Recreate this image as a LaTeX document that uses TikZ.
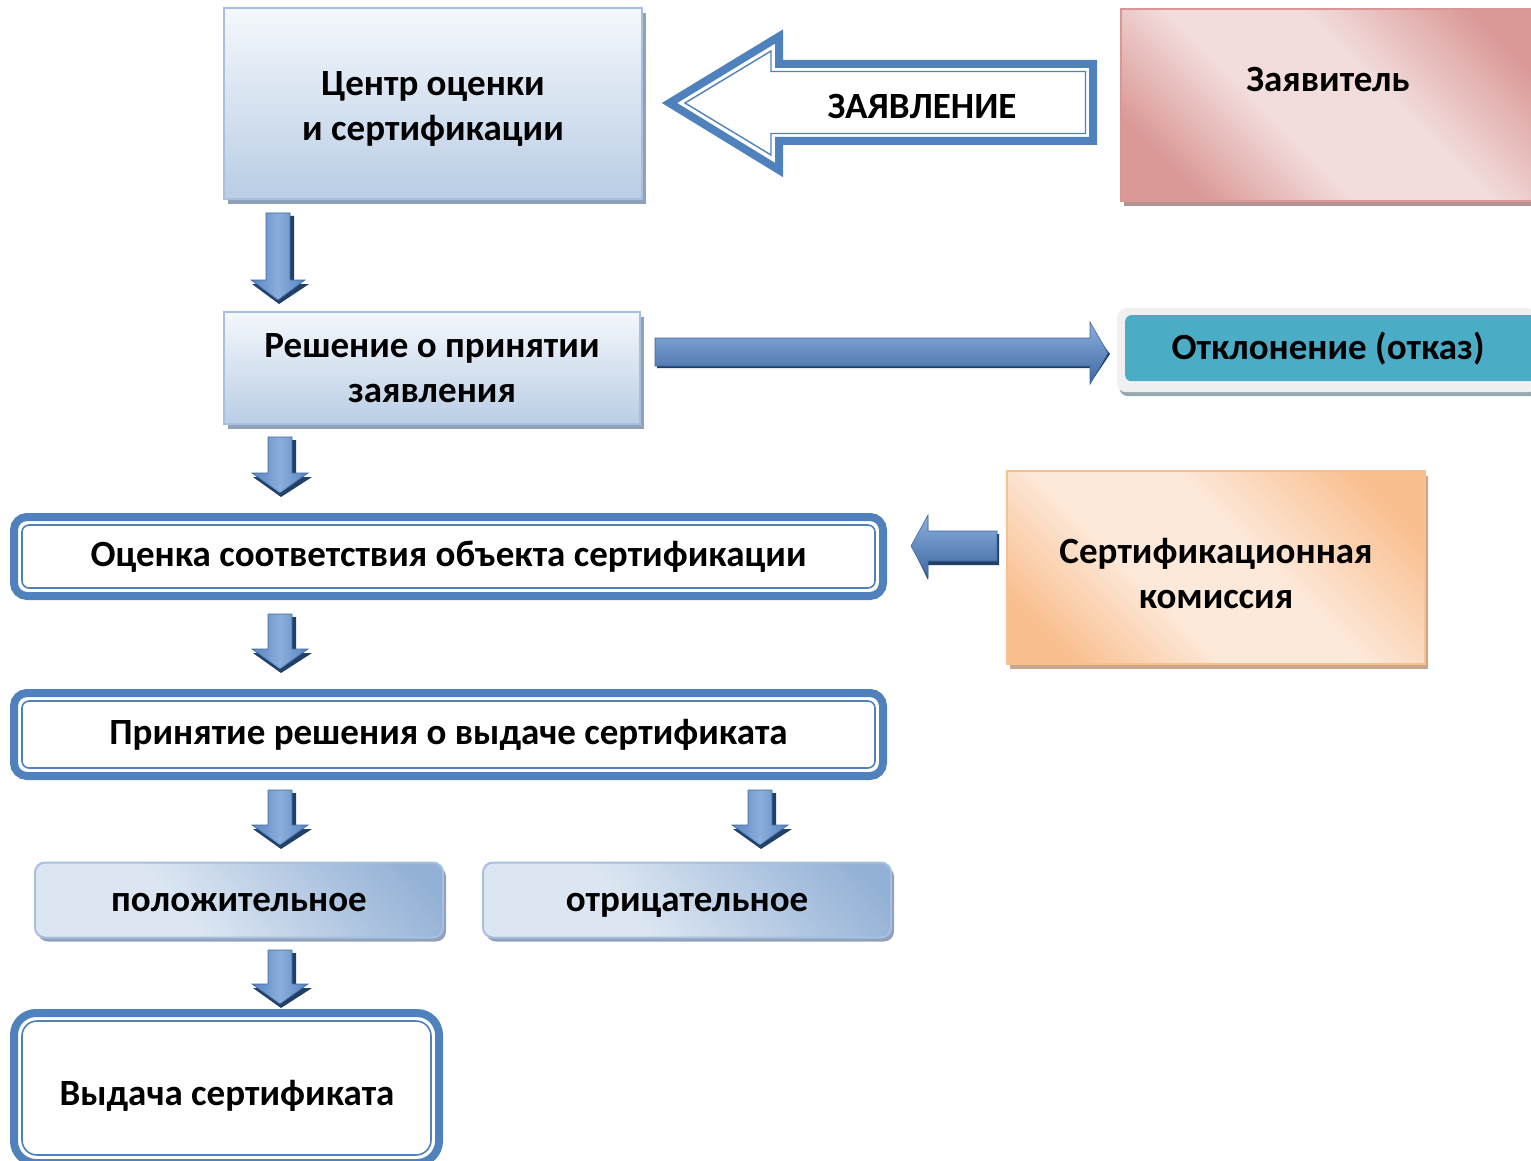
\documentclass[tikz,border=0pt]{standalone}
\usepackage{fontspec}
\setmainfont{Carlito}
\usetikzlibrary{calc,shadows}
\definecolor{blueA}{HTML}{4F81BD}
\definecolor{blueB}{HTML}{A7C0DE}
\definecolor{blueC}{HTML}{B9CDE5}
\definecolor{blueTop}{HTML}{F5F8FC}
\definecolor{shadowB}{HTML}{8FA2BA}
\definecolor{pinkD}{HTML}{DA9896}
\definecolor{pinkL}{HTML}{F2DDDC}
\definecolor{pinkE}{HTML}{D99694}
\definecolor{shadowP}{HTML}{B29493}
\definecolor{orD}{HTML}{F9BE8D}
\definecolor{orL}{HTML}{FDE9DA}
\definecolor{orE}{HTML}{F9C08F}
\definecolor{shadowO}{HTML}{C9A78C}
\definecolor{teal}{HTML}{4BACC6}
\definecolor{grayL}{HTML}{F0F0F0}
\definecolor{shadowT}{HTML}{95A9AE}
\definecolor{pillD}{HTML}{93B1D6}
\definecolor{pillL}{HTML}{DCE6F2}
\definecolor{arrD}{HTML}{3D69A3}
\definecolor{arrM}{HTML}{5583C0}
\definecolor{arrL}{HTML}{8DAEDC}
\definecolor{arrS}{HTML}{223F66}
\pgfdeclarehorizontalshading{pinkband}{100bp}{color(0bp)=(pinkD); color(24bp)=(pinkD); color(42bp)=(pinkL); color(58bp)=(pinkL); color(78bp)=(pinkD); color(100bp)=(pinkD)}
\pgfdeclarehorizontalshading{orband}{100bp}{color(0bp)=(orD); color(22bp)=(orD); color(40bp)=(orL); color(56bp)=(orL); color(78bp)=(orD); color(100bp)=(orD)}
\pgfdeclarehorizontalshading{pillshade}{100bp}{color(0bp)=(pillL); color(40bp)=(pillL); color(80bp)=(pillD); color(100bp)=(pillD)}
\tikzset{
  txt/.style={font=\fontsize{37}{45}\selectfont\bfseries, align=center, text=black},
  cbox/.style={txt, draw=blueB, line width=2pt, top color=blueTop, bottom color=blueC,
    drop shadow={shadow xshift=4pt, shadow yshift=-5pt, fill=shadowB, opacity=1}},
  pinkbox/.style={txt, draw=pinkE, line width=2pt, shading=pinkband, shading angle=45,
    drop shadow={shadow xshift=3pt, shadow yshift=-5pt, fill=shadowP, opacity=1}},
  orbox/.style={txt, draw=orE, line width=2pt, shading=orband, shading angle=45,
    drop shadow={shadow xshift=3pt, shadow yshift=-5pt, fill=shadowO, opacity=1}},
  dblbox/.style={txt, draw=blueA, line width=8pt, fill=white, rounded corners=13pt},
  innerline/.style={draw=blueA, line width=1.6pt, rounded corners=7pt},
  pill/.style={txt, draw=blueB, line width=2pt, rounded corners=10pt, shading=pillshade, shading angle=40,
    drop shadow={shadow xshift=3pt, shadow yshift=-4pt, fill=shadowB, opacity=1}},
  tealouter/.style={fill=grayL, rounded corners=9pt,
    drop shadow={shadow xshift=2pt, shadow yshift=-4pt, fill=shadowT, opacity=1}},
  tealbox/.style={txt, fill=teal, rounded corners=6pt},
  arrshadow/.style={fill=arrS},
  arrbody/.style={draw=arrD, line width=0.6pt, left color=arrM, right color=arrM, middle color=arrL},
  arrbodyh/.style={draw=arrD, line width=0.6pt, top color=arrL, bottom color=arrD},
}
% vertical block arrow from #2 (top centre) to #3 (tip); #1 = half width of the head
\newcommand\blockdown[3][28pt]{%
  \fill[arrshadow] let \p1=(#2), \p2=(#3) in
    (\x1-12pt+4pt,\y1-3pt) -- (\x1+12pt+4pt,\y1-3pt) -- (\x1+12pt+4pt,\y2+20pt-4pt) -- (\x1+#1+4pt,\y2+20pt-4pt)
    -- (\x1+1pt,\y2-4pt) -- (\x1-#1+1pt,\y2+20pt-4pt) -- (\x1-12pt+4pt,\y2+20pt-4pt) -- cycle;
  \path[arrbody] let \p1=(#2), \p2=(#3) in
    (\x1-12pt,\y1) -- (\x1+12pt,\y1) -- (\x1+12pt,\y2+20pt) -- (\x1+#1,\y2+20pt)
    -- (\x1,\y2) -- (\x1-#1,\y2+20pt) -- (\x1-12pt,\y2+20pt) -- cycle;}
\newcommand\blockright[2]{%
  \fill[arrshadow] let \p1=(#1), \p2=(#2) in
    (\x1+2pt,\y1-15pt) -- (\x2-18pt,\y1-15pt) -- (\x2-18pt,\y1-31pt) -- (\x2+2pt,\y1-1pt)
    -- (\x2-18pt,\y1+26pt) -- (\x2-18pt,\y1+10pt) -- (\x1+2pt,\y1+10pt) -- cycle;
  \path[arrbodyh] let \p1=(#1), \p2=(#2) in
    (\x1,\y1+15pt) -- (\x2-18pt,\y1+15pt) -- (\x2-18pt,\y1+31pt) -- (\x2,\y1)
    -- (\x2-18pt,\y1-31pt) -- (\x2-18pt,\y1-13pt) -- (\x1,\y1-13pt) -- cycle;}
\newcommand\blockleft[2]{%
  \fill[arrshadow] let \p1=(#1), \p2=(#2) in
    (\x1+2pt,\y1+12pt) -- (\x2+17pt,\y1+12pt) -- (\x2+17pt,\y1+28pt) -- (\x2+2pt,\y1-3pt)
    -- (\x2+17pt,\y1-34pt) -- (\x2+17pt,\y1-19pt) -- (\x1+2pt,\y1-19pt) -- cycle;
  \path[arrbodyh] let \p1=(#1), \p2=(#2) in
    (\x1,\y1+15pt) -- (\x2+17pt,\y1+15pt) -- (\x2+17pt,\y1+31pt) -- (\x2,\y1)
    -- (\x2+17pt,\y1-31pt) -- (\x2+17pt,\y1-15pt) -- (\x1,\y1-15pt) -- cycle;}
\begin{document}
\begin{tikzpicture}[x=1pt, y=-1pt]
\useasboundingbox (0,0) rectangle (1531,1161);
% top row
\node[cbox, minimum width=418pt, minimum height=191pt] (centr) at (433,103.5) {};
\node[txt] (centrT) at (433,109) {Центр оценки\\и сертификации};
\node[pinkbox, minimum width=416pt, minimum height=192pt, anchor=north west] (zayav) at (1120,8) {};
\node[txt] (zayavT) at (1328,80) {Заявитель};
% hollow arrow (from Заявитель to Центр)
\draw[blueA, line width=8pt, line join=miter] (669.5,103) -- (779,36.5) -- (779,64) -- (1093,64) -- (1093,141) -- (779,141) -- (779,170) -- cycle;
\draw[blueA, line width=1.4pt] (685,103) -- (771,51) -- (771,71.5) -- (1085.5,71.5) -- (1085.5,133.5) -- (771,133.5) -- (771,155) -- cycle;
\node[txt] (zl) at (922,106) {ЗАЯВЛЕНИЕ};
% arrow 1
\coordinate (a1s) at (278,213);
\coordinate (a1e) at (278,300);
\blockdown[27pt]{a1s}{a1e}
% second row
\node[cbox, minimum width=416pt, minimum height=112pt] (resh) at (432,368) {Решение о принятии\\заявления};
\coordinate (ars) at (655,353);
\coordinate (are) at (1108,353);
\blockright{ars}{are}
\node[tealouter, minimum width=420pt, minimum height=84pt, anchor=north west] (otkO) at (1117,308) {};
\node[tealbox, minimum width=420pt, minimum height=66pt, anchor=north west] (otk) at (1125,315) {};
\node[txt] (otkT) at (1328,349) {Отклонение (отказ)};
% arrow 2
\coordinate (a2s) at (280,437);
\coordinate (a2e) at (280,493);
\blockdown{a2s}{a2e}
% third row
\node[dblbox, minimum width=869pt, minimum height=79pt] (ocen) at (448.5,556.5) {Оценка соответствия объекта сертификации};
\draw[innerline] ($(ocen.south west)+(12pt,12pt)$) rectangle ($(ocen.north east)+(-12pt,-12pt)$);
\node[orbox, minimum width=418pt, minimum height=193pt] (kom) at (1216,567) {};
\node[txt] (komT) at (1216,574) {Сертификационная\\комиссия};
\coordinate (als) at (997,546);
\coordinate (ale) at (911,546);
\blockleft{als}{ale}
% arrow 3
\coordinate (a3s) at (280,614);
\coordinate (a3e) at (280,669);
\blockdown{a3s}{a3e}
% fourth row
\node[dblbox, minimum width=869pt, minimum height=83pt] (prin) at (448.5,734.5) {Принятие решения о выдаче сертификата};
\draw[innerline] ($(prin.south west)+(12pt,12pt)$) rectangle ($(prin.north east)+(-12pt,-12pt)$);
\coordinate (a4s) at (280,790);
\coordinate (a4e) at (280,845);
\blockdown{a4s}{a4e}
\coordinate (a5s) at (760,790);
\coordinate (a5e) at (760,845);
\blockdown{a5s}{a5e}
% fifth row
\node[pill, minimum width=408pt, minimum height=75pt] (pol) at (239,900) {};
\node[txt, anchor=base] (polT) at (239,911) {положительное};
\node[pill, minimum width=408pt, minimum height=75pt] (otr) at (687,900) {};
\node[txt, anchor=base] (otrT) at (687,911) {отрицательное};
\coordinate (a6s) at (280,950);
\coordinate (a6e) at (280,1004);
\blockdown{a6s}{a6e}
% last
\node[dblbox, rounded corners=22pt, minimum width=425pt, minimum height=150pt] (vyd) at (226.5,1088) {};
\draw[innerline, rounded corners=15pt] ($(vyd.south west)+(12pt,12pt)$) rectangle ($(vyd.north east)+(-12pt,-12pt)$);
\node[txt] (vydT) at (227,1096) {Выдача сертификата};
\end{tikzpicture}
\end{document}
